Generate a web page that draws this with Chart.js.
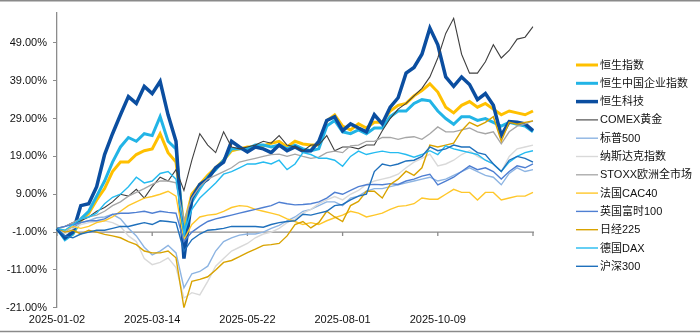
<!DOCTYPE html>
<html>
<head>
<meta charset="utf-8">
<script src="https://cdn.jsdelivr.net/npm/chart.js@4.4.1/dist/chart.umd.min.js"></script>
<style>
  body { margin: 0; background: #fff; }
  #wrap { width: 700px; height: 333px; }
</style>
</head>
<body>
<div id="wrap"><canvas id="chart" width="700" height="333"></canvas></div>
<script>
// tick labels shown every 12 points
const dateLabels = ['2025-01-02', '2025-03-14', '2025-05-22', '2025-08-01', '2025-10-09'];
const yTicks = [-21, -11, -1, 9, 19, 29, 39, 49];

const seriesNames = ['恒生指数', '恒生中国企业指数', '恒生科技', 'COMEX黄金', '标普500', '纳斯达克指数',
  'STOXX欧洲全市场', '法国CAC40', '英国富时100', '日经225', '德国DAX', '沪深300'];

// cumulative return, %
const hsi = [0, -2.5, -1.5, 2, 4, 7.5, 10.5, 15, 17.5, 17.5, 19.5, 20.5, 21, 25, 20, 17.5, 0.5, 9, 11.6, 14, 16,
  18, 20.5, 21, 21.5, 21.5, 21.8, 22.5, 23, 21.5, 23, 22.3, 22, 22, 28.4, 30, 27, 26, 27.6, 26.5, 28,
  28, 31, 32.5, 33, 35, 36.4, 38.2, 36, 32, 30.5, 32.5, 33.5, 32, 33, 31.5, 30, 31, 30.5, 30, 31];
const hscei = [0, -3, -1.5, 2.5, 4.5, 8.5, 12.5, 17.5, 21.5, 24, 23, 25, 24.5, 29.5, 23, 21, -2, 7, 10.5, 13.5, 15.5,
  18, 21, 21, 21, 22, 22, 21.5, 22, 21, 22, 21, 20.5, 21, 27, 28.5, 25.5, 25, 26, 25, 26.5,
  26.5, 29.5, 31, 31, 33, 34, 33.7, 31, 29, 27.5, 29.5, 29.5, 28.5, 29, 28, 27, 28, 27.5, 27, 25.5];
const hstech = [0, -2.5, -1, 6, 6.5, 11, 19.5, 25, 30, 34.8, 33, 37.5, 35.6, 38.8, 30, 23, -8, 8, 11.6, 13, 16,
  17.5, 23, 21.5, 20.2, 21.5, 21, 20, 22, 20.5, 21.5, 20.4, 20.5, 23, 28.5, 29.5, 25.8, 27.6, 26.5, 25.5, 30,
  27.6, 32, 34.5, 41, 42.5, 46, 52.9, 48.5, 40, 37.5, 40, 38, 34, 35.6, 32.5, 24.5, 28.2, 28, 27.6, 25.8];
const comex = [0, 0.5, 1.5, 2, 3, 4.5, 5.5, 7, 9, 8.5, 10.3, 8, 11, 13.5, 12.5, 15.5, 10, 18, 25, 22, 20,
  25.5, 21.5, 21, 21.5, 22, 23, 22.5, 24.5, 22, 21.5, 20.4, 22, 22, 24.5, 20.5, 21.5, 21.5, 21, 22, 22,
  25.8, 29, 31.5, 33, 35, 37, 40, 45, 51.5, 55.5, 46, 41, 41, 44, 48.5, 45, 47, 50, 50.5, 53.3];
const sp500 = [0, -1, 0.5, 1.5, 2, 2.8, 3, 3.7, 2.5, 0, -2, -5, -7, -6, -4.5, -6.5, -15.7, -12, -11.4, -10, -6,
  -3.5, -2.5, -1.8, -1.5, -1.5, -1, 0, 0.8, 2, 3, 4.5, 5, 6, 7, 7, 6, 8, 8.5, 9.8, 10.5,
  10.5, 11, 11.5, 12, 12.5, 13, 13.5, 12.5, 13, 14, 15, 16, 15, 14, 13.5, 11.5, 14.5, 16, 15, 15.5];
const nasdaq = [0, -1.5, 0, 1, 1.5, 1.8, 2, 1.5, 0.5, -2, -3.5, -8, -9.6, -9, -7.8, -10.4, -18.4, -17, -17.6, -14, -10,
  -8, -6, -5, -4, -2.5, -1.5, -1, 0, 1.5, 2.5, 4, 5, 6.5, 7.5, 8.4, 7.5, 9, 10, 11.6, 12.5,
  13, 13.5, 14.3, 16, 17.5, 18.5, 19.6, 16.5, 17, 18, 19.5, 20.5, 19, 18, 17, 15, 19, 21, 21.5, 22];
const stoxx = [0, 0.5, 1.5, 2.5, 3, 3.5, 4.5, 6, 7, 8.5, 9.5, 10.5, 11.6, 12.5, 12.5, 12, 2, 8, 11, 13, 14,
  15, 16, 17.5, 18, 18.5, 19, 19.5, 19.6, 19, 19.6, 19, 18.5, 18.8, 20, 20.4, 20, 21.8, 22, 23, 23,
  24, 24, 23.5, 24, 24.2, 23.5, 25, 26.8, 25.5, 25.5, 26, 26.5, 25.5, 25, 25.5, 22.3, 25.5, 27, 27.6, 28.4];
const cac40 = [0, -0.5, 0.5, 0, 0.5, 1.5, 2, 3, 4.5, 6, 7, 8, 8.4, 9, 9.8, 8.5, -3, 1, 3, 3.5, 3.7,
  4.5, 5.5, 6, 5.8, 5, 4.5, 4, 3.5, 2.5, 1.8, 1, 1.5, 1, 2, 2.8, 3.5, 4.5, 4, 3, 3.5,
  4, 5, 5.8, 6, 6.5, 8, 7.7, 7.7, 9, 10.3, 9.5, 9.5, 7.5, 9.5, 9.5, 7.5, 8, 8.5, 8.5, 9.5];
const ftse100 = [0, 0.5, 1, 1.5, 2, 2, 2.5, 3.7, 4, 4, 4.2, 4.5, 4, 4.5, 4.2, 4, -3.5, -1, 0.5, 1.8, 2.5,
  3, 3.5, 4, 4.5, 5, 5.5, 6, 6.9, 6.5, 6.2, 6.3, 6.5, 7, 8, 9.5, 9, 10, 11, 11.5, 11.6,
  11.5, 11.8, 11.6, 12.5, 13, 13.8, 14.3, 11.5, 12.5, 13.5, 15, 16.5, 15.5, 16, 15, 13, 15, 16.5, 16, 17];
const nikkei = [0, -1, -0.5, -1.5, -0.5, -1, -1.6, -2, -2.5, -3.5, -4.3, -6, -6.5, -6.5, -6, -7.8, -21, -14, -13.5, -12.8, -11,
  -9, -8.5, -7.5, -6.4, -5.5, -4.5, -4.3, -4, -2, 1, 1.8, 0.1, 1.5, 4.5, 3, 1.8, 6, 7.1, 9.8, 9.8,
  8, 11.6, 13, 15.1, 14, 16, 22, 21.5, 22, 22.5, 25.8, 28, 27, 28, 29.5, 23, 28, 27.5, 28, 28.4];
const dax = [0, -0.5, 1, 2.5, 3, 4, 6.5, 8.2, 9, 11, 13.5, 12, 12.5, 14.5, 15, 13, -1.5, 5, 8, 10, 12,
  14.3, 15, 16, 17, 17, 17.5, 17, 18, 15.5, 17, 20, 19.5, 18.5, 18.5, 18, 16.4, 19, 20.4, 19.5, 20,
  20.4, 20, 20, 19.5, 18.8, 19.5, 20.5, 19.5, 21.8, 21, 20.5, 20, 19.5, 18, 17, 15, 17.5, 19, 20, 20.5];
const csi300 = [0, -2, -2.5, -1.5, -1, -0.5, -0.5, 0, 0.5, 0.5, 1, 1.5, 1, 2, 1.8, 1.5, -6, -3, -1.5, -0.5, -0.3,
  0, 0.5, 0.5, 0.5, 0.5, 0.3, 1, 1.5, 1.8, 2, 3.7, 3.5, 4, 4.5, 6, 6.3, 7.5, 8.5, 9, 15,
  17, 16.5, 17, 17.8, 18, 19, 21.5, 20.5, 21, 22, 21.5, 21.5, 20, 19.5, 17, 15, 18, 19, 18.5, 17.5];

const seriesData = [hsi, hscei, hstech, comex, sp500, nasdaq, stoxx, cac40, ftse100, nikkei, dax, csi300];
const colors = ['#FFC000', '#22B4E6', '#0B4EA0', '#404040', '#8DB4E2', '#D9D9D9',
  '#A6A6A6', '#FFC72A', '#4F7FD2', '#D9A300', '#25BBF0', '#1F70BC'];
const widths = [3, 3, 3.5, 1.1, 1.4, 1.4, 1.3, 1.4, 1.4, 1.4, 1.4, 1.4];

const FONT = '"Liberation Sans", Arial, "Noto Sans CJK SC", sans-serif';
const labels = hsi.map((v, i) => i);

const frameAndAxis = {
  id: 'frameAndAxis',
  beforeDatasetsDraw(chart) {
    const { ctx, chartArea, scales } = chart;
    const y0 = scales.y.getPixelForValue(-1);
    ctx.save();
    ctx.strokeStyle = '#8C8C8C';
    ctx.lineWidth = 1.3;
    ctx.beginPath();
    ctx.moveTo(chartArea.left, y0);
    ctx.lineTo(chartArea.right + 1, y0);
    for (let i = 0; i < labels.length; i += 12) {
      const x = scales.x.getPixelForValue(i);
      ctx.moveTo(x, y0);
      ctx.lineTo(x, y0 + 4);
    }
    ctx.stroke();
    ctx.restore();
  },
  afterDraw(chart) {
    const { ctx } = chart;
    ctx.save();
    // outer frame lines
    ctx.strokeStyle = '#8A8A8A';
    ctx.lineWidth = 1.5;
    ctx.beginPath();
    ctx.moveTo(0, 0.75); ctx.lineTo(700, 0.75);
    ctx.moveTo(0, 331.5); ctx.lineTo(700, 331.5);
    ctx.stroke();
    // legend
    ctx.font = '11px ' + FONT;
    ctx.textBaseline = 'middle';
    ctx.fillStyle = '#111';
    chart.data.datasets.forEach((ds, i) => {
      const y = 65 + i * 18.3;
      ctx.strokeStyle = ds.borderColor;
      ctx.lineWidth = ds.borderWidth;
      ctx.beginPath();
      ctx.moveTo(576, y);
      ctx.lineTo(598, y);
      ctx.stroke();
      ctx.fillText(ds.label, 600, y + 0.5);
    });
    ctx.restore();
  }
};

new Chart(document.getElementById('chart'), {
  type: 'line',
  data: {
    labels: labels,
    datasets: seriesData.map((d, i) => ({
      label: seriesNames[i],
      data: d,
      borderColor: colors[i],
      backgroundColor: colors[i],
      borderWidth: widths[i],
      pointRadius: 0,
      tension: 0,
      order: -i
    }))
  },
  options: {
    responsive: false,
    animation: false,
    layout: { padding: { top: 12, right: 167, left: 0, bottom: 0 } },
    plugins: { legend: { display: false }, tooltip: { enabled: false } },
    scales: {
      x: {
        type: 'category',
        offset: false,
        grid: { display: false, drawTicks: false },
        border: { display: false },
        ticks: {
          autoSkip: false,
          maxRotation: 0,
          padding: 6,
          color: '#111',
          font: { family: FONT, size: 11 },
          callback: (v, i) => (i % 12 === 0 && i / 12 < dateLabels.length) ? dateLabels[i / 12] : ''
        }
      },
      y: {
        min: -21,
        max: 57,
        afterBuildTicks: s => { s.ticks = yTicks.map(v => ({ value: v })); },
        afterFit: s => { s.width = 57; },
        grid: { drawOnChartArea: false, tickLength: 4, color: '#8C8C8C' },
        border: { color: '#8C8C8C', width: 1.3 },
        ticks: {
          padding: 6,
          color: '#111',
          font: { family: FONT, size: 11 },
          callback: v => v.toFixed(2) + '%'
        }
      }
    }
  },
  plugins: [frameAndAxis]
});
</script>
</body>
</html>
